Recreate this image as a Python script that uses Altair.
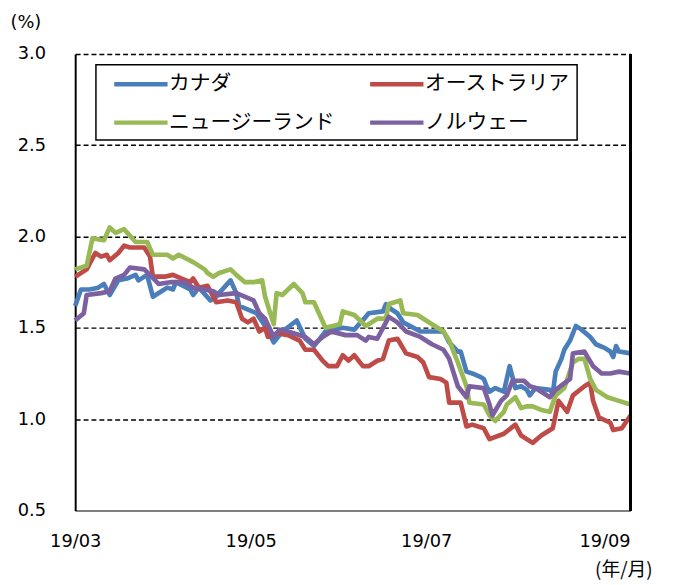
import altair as alt
import pandas as pd

countries = ["カナダ", "オーストラリア", "ニュージーランド", "ノルウェー"]
colors = ["#4A7EBB", "#BE4B48", "#98B954", "#7D60A0"]
# legend is laid out column by column: column 1 = カナダ / ニュージーランド
legend_order = [0, 2, 1, 3]

canada_dates = ["03-01", "03-03", "03-06", "03-09", "03-11", "03-13", "03-16", "03-19", "03-22", "03-23",
                "03-26", "03-28", "03-31", "04-02", "04-04", "04-05", "04-10", "04-11", "04-13", "04-17",
                "04-19", "04-20", "04-24", "04-26", "04-27", "05-03", "05-06", "05-09", "05-12", "05-17",
                "05-20", "05-23", "05-27", "06-02", "06-06", "06-10", "06-11", "06-16", "06-17", "06-19",
                "06-21", "06-23", "06-29", "07-03", "07-07", "07-09", "07-12", "07-13", "07-15", "07-17",
                "07-20", "07-21", "07-22", "07-23", "07-25", "07-28", "07-30", "08-01", "08-03", "08-05",
                "08-06", "08-08", "08-13", "08-14", "08-15", "08-17", "08-18", "08-20", "08-22", "08-24",
                "08-27", "08-29", "09-01", "09-03", "09-04", "09-05", "09-06", "09-10"]
canada_vals = [1.62, 1.71, 1.71, 1.72, 1.74, 1.68, 1.76, 1.77, 1.79, 1.76,
               1.79, 1.67, 1.70, 1.72, 1.71, 1.75, 1.71, 1.68, 1.72, 1.65,
               1.67, 1.69, 1.76, 1.69, 1.62, 1.58, 1.51, 1.42, 1.48, 1.54,
               1.44, 1.40, 1.48, 1.50, 1.49, 1.56, 1.58, 1.59, 1.63, 1.60,
               1.58, 1.53, 1.48, 1.48, 1.48, 1.42, 1.37, 1.37, 1.26, 1.25,
               1.23, 1.22, 1.18, 1.15, 1.17, 1.15, 1.29, 1.17, 1.18, 1.16,
               1.13, 1.17, 1.16, 1.14, 1.26, 1.33, 1.38, 1.43, 1.51, 1.49,
               1.45, 1.41, 1.39, 1.37, 1.34, 1.40, 1.37, 1.36]

australia_dates = ["03-01", "03-05", "03-08", "03-10", "03-12", "03-13", "03-16", "03-18", "03-20", "03-25",
                   "03-27", "03-28", "04-01", "04-04", "04-07", "04-10", "04-11", "04-13", "04-16", "04-19",
                   "04-23", "04-26", "04-28", "04-30", "05-02", "05-04", "05-06", "05-07", "05-10", "05-14",
                   "05-18", "05-20", "05-23", "05-26", "05-28", "05-31", "06-02", "06-04", "06-06", "06-09",
                   "06-11", "06-14", "06-16", "06-18", "06-21", "06-24", "06-28", "06-30", "07-02", "07-06",
                   "07-08", "07-09", "07-13", "07-15", "07-17", "07-21", "07-23", "07-28", "08-01", "08-03",
                   "08-07", "08-10", "08-14", "08-16", "08-19", "08-21", "08-25", "08-27", "08-28", "08-30",
                   "09-03", "09-04", "09-07", "09-10"]
australia_vals = [1.78, 1.82, 1.91, 1.89, 1.90, 1.87, 1.91, 1.95, 1.94, 1.94,
                  1.89, 1.78, 1.78, 1.79, 1.77, 1.75, 1.77, 1.72, 1.73, 1.64,
                  1.65, 1.64, 1.55, 1.53, 1.55, 1.48, 1.50, 1.45, 1.47, 1.46,
                  1.43, 1.38, 1.38, 1.32, 1.29, 1.29, 1.35, 1.32, 1.35, 1.29,
                  1.29, 1.32, 1.33, 1.43, 1.44, 1.36, 1.34, 1.31, 1.23, 1.22,
                  1.20, 1.09, 1.09, 0.96, 0.97, 0.95, 0.89, 0.92, 0.97, 0.91,
                  0.87, 0.91, 0.95, 1.10, 1.04, 1.13, 1.18, 1.20, 1.10, 1.01,
                  0.98, 0.94, 0.95, 1.02]

nz_dates = ["03-01", "03-05", "03-07", "03-11", "03-13", "03-15", "03-18", "03-22", "03-26", "03-28",
            "04-02", "04-04", "04-06", "04-11", "04-15", "04-16", "04-18", "04-20", "04-24", "04-26",
            "04-29", "05-02", "05-05", "05-06", "05-09", "05-10", "05-12", "05-16", "05-19", "05-20",
            "05-23", "05-27", "06-01", "06-02", "06-06", "06-10", "06-14", "06-17", "06-18", "06-22",
            "06-23", "06-28", "07-03", "07-07", "07-09", "07-12", "07-15", "07-16", "07-21", "07-23",
            "07-25", "07-28", "07-29", "08-01", "08-03", "08-05", "08-07", "08-10", "08-13", "08-15",
            "08-18", "08-21", "08-23", "08-25", "08-27", "08-29", "09-02", "09-06", "09-10"]
nz_vals = [1.82, 1.84, 1.99, 1.98, 2.05, 2.02, 2.04, 1.97, 1.97, 1.90,
           1.90, 1.88, 1.90, 1.86, 1.82, 1.80, 1.78, 1.80, 1.82, 1.79,
           1.75, 1.75, 1.76, 1.67, 1.52, 1.69, 1.68, 1.74, 1.69, 1.64,
           1.64, 1.50, 1.52, 1.59, 1.57, 1.51, 1.55, 1.55, 1.63, 1.65,
           1.58, 1.57, 1.52, 1.48, 1.43, 1.31, 1.18, 1.09, 1.08, 1.02,
           0.99, 1.04, 1.08, 1.12, 1.06, 1.07, 1.07, 1.05, 1.04, 1.13,
           1.17, 1.31, 1.33, 1.33, 1.22, 1.16, 1.12, 1.10, 1.08]

norway_dates = ["03-01", "03-04", "03-05", "03-10", "03-13", "03-15", "03-18", "03-20", "03-25", "03-27",
                "03-30", "04-03", "04-08", "04-11", "04-15", "04-18", "04-20", "04-26", "05-02", "05-04",
                "05-06", "05-09", "05-11", "05-14", "05-20", "05-23", "05-26", "05-29", "06-03", "06-07",
                "06-10", "06-11", "06-14", "06-18", "06-21", "06-24", "06-29", "07-03", "07-07", "07-09",
                "07-12", "07-15", "07-16", "07-21", "07-23", "07-24", "07-27", "07-29", "07-31", "08-04",
                "08-06", "08-08", "08-13", "08-15", "08-20", "08-21", "08-25", "08-28", "08-31", "09-03",
                "09-06", "09-10"]
norway_vals = [1.54, 1.58, 1.68, 1.69, 1.70, 1.77, 1.79, 1.83, 1.82, 1.79,
               1.74, 1.75, 1.75, 1.72, 1.71, 1.70, 1.68, 1.69, 1.65, 1.58,
               1.55, 1.45, 1.49, 1.48, 1.45, 1.41, 1.45, 1.48, 1.46, 1.46,
               1.43, 1.45, 1.44, 1.56, 1.53, 1.48, 1.45, 1.41, 1.38, 1.33,
               1.18, 1.12, 1.18, 1.17, 1.08, 1.02, 1.10, 1.13, 1.21, 1.21,
               1.18, 1.17, 1.12, 1.16, 1.22, 1.36, 1.37, 1.29, 1.25, 1.25,
               1.26, 1.25]

rows = []
for name, ds, vs in [(countries[0], canada_dates, canada_vals),
                     (countries[1], australia_dates, australia_vals),
                     (countries[2], nz_dates, nz_vals),
                     (countries[3], norway_dates, norway_vals)]:
    for d, v in zip(ds, vs):
        rows.append({"国": name, "date": "2019-" + d + "T00:00:00", "value": v})
df = pd.DataFrame(rows)

num_font = "DejaVu Sans"
jp_font = "Noto Sans CJK JP"

x_ticks = [alt.DateTime(year=2019, month=m, date=1) for m in (3, 5, 7, 9)]

# pad only the second legend column so the box reaches the right like the original
label_expr = ("datum.label + ((datum.label == '" + countries[1] + "' || datum.label == '"
              + countries[3] + "') ? '\u3000\u3000' : '')")

lines = alt.Chart(df).mark_line(strokeWidth=4.7, strokeJoin="round").encode(
    x=alt.X("date:T",
            scale=alt.Scale(domain=[alt.DateTime(year=2019, month=3, date=1),
                                    alt.DateTime(year=2019, month=9, date=10)]),
            axis=alt.Axis(values=x_ticks, format="%y/%m", ticks=False, grid=False,
                          labelPadding=23, labelFont=num_font, labelFontSize=18,
                          labelColor="black", domainColor="#808080", domainWidth=2,
                          title="(年/月)", titleFont=jp_font, titleFontSize=19,
                          titleFontWeight="normal", titleColor="black",
                          titleAngle=0, titleAlign="right", titleBaseline="middle",
                          titleX=584, titleY=60, labelOverlap=False, labelFlush=False)),
    y=alt.Y("value:Q",
            scale=alt.Scale(domain=[0.5, 3.0], nice=False, zero=False),
            axis=alt.Axis(values=[0.5, 1.0, 1.5, 2.0, 2.5, 3.0], format=".1f", ticks=False,
                          labelPadding=30, labelFont=num_font, labelFontSize=18,
                          labelColor="black", domainColor="black", domainWidth=2,
                          grid=True, gridColor="black", gridWidth=1.5, gridDash=[5, 3],
                          title="(%)", titleFont=num_font, titleFontSize=18,
                          titleFontWeight="normal", titleColor="black",
                          titleAngle=0, titleAlign="left", titleBaseline="middle",
                          titleX=-66, titleY=-32)),
    color=alt.Color("国:N",
                    scale=alt.Scale(domain=[countries[i] for i in legend_order],
                                    range=[colors[i] for i in legend_order]),
                    legend=alt.Legend(orient="none", legendX=21, legendY=11, columns=2,
                                      title=None, symbolType="M-2.7,0L2.7,0", symbolSize=400,
                                      symbolStrokeWidth=4.5, symbolOffset=26,
                                      labelFont=jp_font, labelFontSize=21, labelColor="black",
                                      labelLimit=400, labelOffset=16,
                                      labelExpr=label_expr,
                                      columnPadding=24, rowPadding=16, padding=7,
                                      strokeColor="black", fillColor="white")),
    order=alt.Order("date:T"),
)

right_border = alt.Chart(df).mark_rule(color="black", strokeWidth=1.5).encode(
    x=alt.value(562), y=alt.value(0), y2=alt.value(462)
)

chart = alt.layer(lines, right_border).properties(
    width=562, height=462,
    autosize=alt.AutoSizeParams(type="none"),
    padding={"left": 68, "top": 43, "right": 39, "bottom": 72},
).configure_view(stroke=None).configure_legend(strokeWidth=1.5)

chart.save("out.html", embed_options={"renderer": "svg", "actions": False})
